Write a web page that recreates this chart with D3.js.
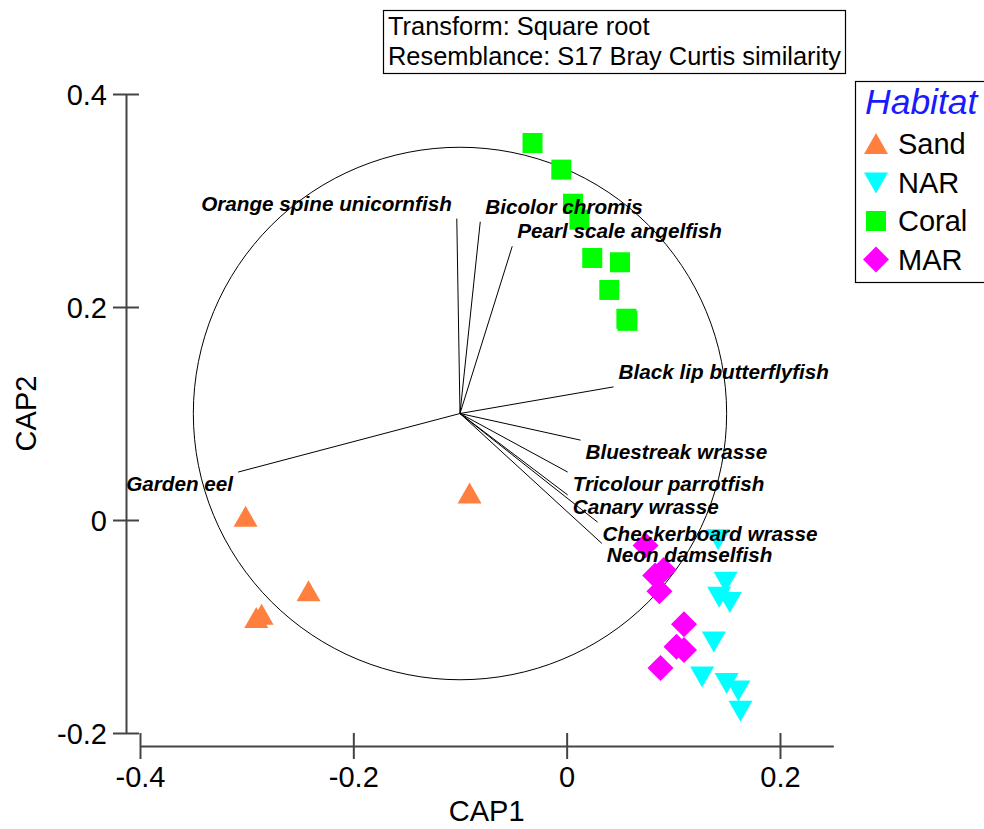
<!DOCTYPE html>
<html>
<head>
<meta charset="utf-8">
<script src="https://cdn.jsdelivr.net/npm/d3@7"></script>
<style>
  body { margin: 0; background: #fff; }
  text { font-family: "Liberation Sans", Arial, sans-serif; }
</style>
</head>
<body>
<svg id="chart" width="984" height="829"></svg>
<script>
"use strict";

// CAP ordination scores.
var sandX = [-0.301, -0.242, -0.291, -0.286, -0.091];
var sandY = [0.003, -0.067, -0.092, -0.089, 0.025];

var narX = [0.142, 0.149, 0.143, 0.153, 0.138, 0.127, 0.150, 0.161, 0.163];
var narY = [-0.018, -0.058, -0.072, -0.077, -0.114, -0.147, -0.153, -0.160, -0.179];

var coralX = [-0.032, -0.005, 0.006, 0.012, 0.024, 0.050, 0.040, 0.056, 0.057];
var coralY = [0.354, 0.329, 0.297, 0.282, 0.246, 0.242, 0.216, 0.189, 0.187];

var marX = [0.074, 0.083, 0.091, 0.087, 0.110, 0.103, 0.110, 0.088];
var marY = [-0.024, -0.052, -0.047, -0.067, -0.098, -0.119, -0.122, -0.139];

// Species correlation vectors (origin at the circle centre).
var speciesNames = ["Orange spine unicornfish", "Bicolor chromis", "Pearl scale angelfish",
    "Black lip butterflyfish", "Bluestreak wrasse", "Tricolour parrotfish", "Canary wrasse",
    "Checkerboard wrasse", "Neon damselfish", "Garden eel"];
var vecX = [-0.103, -0.081, -0.051, 0.044, 0.013, 0.001, 0.001, 0.029, 0.033, -0.308];
var vecY = [0.283, 0.280, 0.257, 0.125, 0.075, 0.045, 0.0235, -0.002, -0.022, 0.045];

var circleCentre = [-0.1, 0.1];
var circleRadius = 0.25;

var xTicks = [-0.4, -0.2, 0, 0.2];
var yTicks = [-0.2, 0, 0.2, 0.4];

var groupNames = ["Sand", "NAR", "Coral", "MAR"];
var groupColours = ["#ff7f3f", "#00ffff", "#00ff00", "#ff00ff"];

var headerLines = ["Transform: Square root", "Resemblance: S17 Bray Curtis similarity"];

var svg = d3.select("#chart");

var x = d3.scaleLinear().domain([-0.4, 0.25]).range([140, 833.3]);
var y = d3.scaleLinear().domain([-0.2, 0.4]).range([733, 94]);

// plain hyphen for negatives, like the original
function tickFmt(d) {
    if (d === 0) return "0";
    return (d < 0 ? "-" : "") + Math.abs(d).toFixed(1);
}

// Marker shapes, centred on their bounding box like the original.
function markerPath(kind) {
    if (kind === "Sand") return "M0,-11L12,10L-12,10Z";
    if (kind === "NAR") return "M0,11L12,-10L-12,-10Z";
    if (kind === "Coral") return "M-10,-10H10V10H-10Z";
    return "M0,-13L13,0L0,13L-13,0Z";
}

// Axes
var yAxisX = 126, xAxisY = 746;

var yAxis = svg.append("g")
    .attr("transform", "translate(" + yAxisX + ",0)")
    .call(d3.axisLeft(y).tickValues(yTicks).tickSizeOuter(0).tickFormat(tickFmt));
yAxis.select(".domain").attr("stroke", "#444").attr("stroke-width", 2);
yAxis.selectAll(".tick line").attr("x1", -13).attr("x2", 13)
    .attr("stroke", "#444").attr("stroke-width", 2);
yAxis.selectAll(".tick text").attr("x", -19).attr("dy", "0.36em")
    .attr("font-size", 29).attr("fill", "#000")
    .attr("font-family", "'Liberation Sans', Arial, sans-serif");

var xAxis = svg.append("g")
    .attr("transform", "translate(0," + xAxisY + ")")
    .call(d3.axisBottom(x).tickValues(xTicks).tickSizeOuter(0).tickFormat(tickFmt));
xAxis.select(".domain").attr("stroke", "#444").attr("stroke-width", 2);
xAxis.selectAll(".tick line").attr("y1", -13).attr("y2", 13)
    .attr("stroke", "#444").attr("stroke-width", 2);
xAxis.selectAll(".tick text").attr("y", 41).attr("dy", 0)
    .attr("font-size", 29).attr("fill", "#000")
    .attr("font-family", "'Liberation Sans', Arial, sans-serif");

svg.append("text")
    .attr("x", (x.range()[0] + x.range()[1]) / 2)
    .attr("y", 821)
    .attr("text-anchor", "middle")
    .attr("font-size", 29)
    .text("CAP1");

svg.append("text")
    .attr("transform", "translate(36," + ((y.range()[0] + y.range()[1]) / 2) + ") rotate(-90)")
    .attr("text-anchor", "middle")
    .attr("font-size", 29)
    .text("CAP2");

// Correlation circle
svg.append("ellipse")
    .attr("cx", x(circleCentre[0]))
    .attr("cy", y(circleCentre[1]))
    .attr("rx", x(circleCentre[0] + circleRadius) - x(circleCentre[0]))
    .attr("ry", y(circleCentre[1]) - y(circleCentre[1] + circleRadius))
    .attr("fill", "none")
    .attr("stroke", "#000")
    .attr("stroke-width", 1);

// Vectors
var vectors = speciesNames.map(function(name, i) {
    return { name: name, x: vecX[i], y: vecY[i] };
});

svg.append("g").selectAll("line")
    .data(vectors)
    .join("line")
    .attr("x1", x(circleCentre[0]))
    .attr("y1", y(circleCentre[1]))
    .attr("x2", function(d) { return x(d.x); })
    .attr("y2", function(d) { return y(d.y); })
    .attr("stroke", "#000")
    .attr("stroke-width", 1);

// Points
var groups = [
    { name: "Sand", xs: sandX, ys: sandY },
    { name: "NAR", xs: narX, ys: narY },
    { name: "Coral", xs: coralX, ys: coralY },
    { name: "MAR", xs: marX, ys: marY }
];

groups.forEach(function(g, gi) {
    var pts = g.xs.map(function(v, i) { return [v, g.ys[i]]; });
    svg.append("g").selectAll("path")
        .data(pts)
        .join("path")
        .attr("d", markerPath(g.name))
        .attr("transform", function(d) { return "translate(" + x(d[0]) + "," + y(d[1]) + ")"; })
        .attr("fill", groupColours[gi]);
});

// Vector labels (drawn over the points)
svg.append("g").selectAll("text")
    .data(vectors)
    .join("text")
    .attr("x", function(d) { return x(d.x) + (d.x >= circleCentre[0] ? 5 : -5); })
    .attr("y", function(d) { return y(d.y) + (d.y < circleCentre[1] ? 19 : -8); })
    .attr("text-anchor", function(d) { return d.x >= circleCentre[0] ? "start" : "end"; })
    .attr("font-size", 20.7)
    .attr("font-weight", "bold")
    .attr("font-style", "italic")
    .text(function(d) { return d.name; });

// Header box
svg.append("rect")
    .attr("x", 383.5).attr("y", 10.5)
    .attr("width", 462).attr("height", 63)
    .attr("fill", "#fff").attr("stroke", "#000").attr("stroke-width", 1.2);

svg.append("g").selectAll("text")
    .data(headerLines)
    .join("text")
    .attr("x", 388)
    .attr("y", function(d, i) { return 35 + i * 29.5; })
    .attr("font-size", 25.4)
    .text(function(d) { return d; });

// Legend
var legend = svg.append("g");
legend.append("rect")
    .attr("x", 855.5).attr("y", 81.5)
    .attr("width", 140).attr("height", 201)
    .attr("fill", "#fff").attr("stroke", "#000").attr("stroke-width", 1.2);

legend.append("text")
    .attr("x", 865).attr("y", 114)
    .attr("font-size", 35.5)
    .attr("font-style", "italic")
    .attr("fill", "#1a1aff")
    .text("Habitat");

groupNames.forEach(function(name, i) {
    var cy = 144 + i * 38.5;
    legend.append("path")
        .attr("d", markerPath(name))
        .attr("transform", "translate(876," + cy + ")")
        .attr("fill", groupColours[i]);
    legend.append("text")
        .attr("x", 898).attr("y", cy + 10)
        .attr("font-size", 29)
        .text(name);
});
</script>
</body>
</html>
